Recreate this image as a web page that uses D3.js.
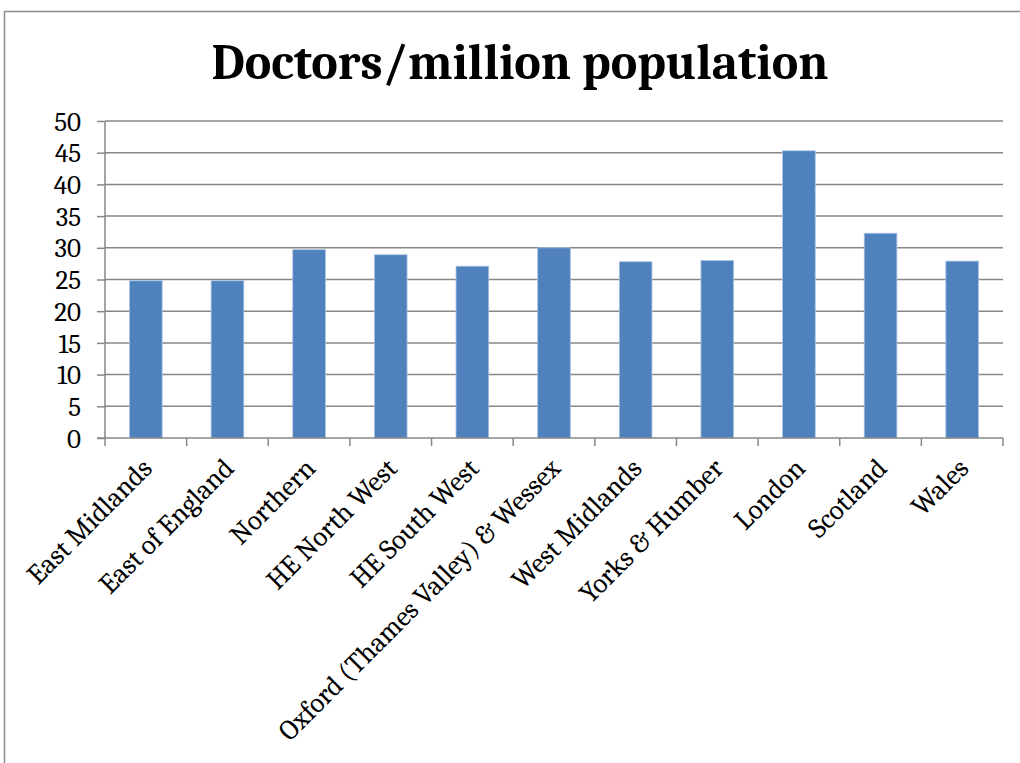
<!DOCTYPE html>
<html>
<head>
<meta charset="utf-8">
<script src="https://cdn.jsdelivr.net/npm/d3@7"></script>
<style>
  html, body { margin: 0; padding: 0; background: #fff; }
  svg { display: block; }
</style>
</head>
<body>
<svg id="chart" width="1020" height="763"></svg>
<script>
// Doctors per million population, by region
const regions = [
  "East Midlands", "East of England", "Northern", "HE North West", "HE South West",
  "Oxford (Thames Valley) & Wessex", "West Midlands", "Yorks & Humber",
  "London", "Scotland", "Wales"
];
const doctorsPerMillion = [24.8, 24.8, 29.7, 28.9, 27.1, 30.0, 27.8, 28.0, 45.3, 32.3, 27.9];
const yTicks = [0, 5, 10, 15, 20, 25, 30, 35, 40, 45, 50];
const chartTitle = "Doctors/million population";

const svg = d3.select("#chart");
const W = 1020, H = 763;
const plot = { left: 105, right: 1003, top: 121, bottom: 438 };
const serif = "Cambria, 'Liberation Serif', 'DejaVu Serif', serif";

// outer frame (runs off the right and bottom edges)
svg.append("path")
  .attr("d", `M4.5,${H} V11.5 H${W}`)
  .attr("fill", "none")
  .attr("stroke", "#8c8c8c")
  .attr("stroke-width", 1.5);

svg.append("text")
  .attr("x", 520).attr("y", 79)
  .attr("text-anchor", "middle")
  .attr("font-family", serif)
  .attr("font-weight", "bold")
  .attr("font-size", 50)
  .attr("fill", "#000")
  .text(chartTitle);

const x = d3.scaleBand().domain(regions).range([plot.left, plot.right]).paddingInner(0.6).paddingOuter(0.3);
const xBand = d3.scaleBand().domain(regions).range([plot.left, plot.right]);
const y = d3.scaleLinear().domain([0, 50]).range([plot.bottom, plot.top]);

// horizontal gridlines
svg.append("g")
  .selectAll("line")
  .data(yTicks.filter(t => t > 0))
  .join("line")
  .attr("x1", plot.left).attr("x2", plot.right)
  .attr("y1", d => y(d)).attr("y2", d => y(d))
  .attr("stroke", "#878787")
  .attr("stroke-width", 1.5);

// bars
svg.append("g")
  .selectAll("rect")
  .data(doctorsPerMillion)
  .join("rect")
  .attr("x", (d, i) => x(regions[i]))
  .attr("width", x.bandwidth())
  .attr("y", d => y(d))
  .attr("height", d => y(0) - y(d))
  .attr("fill", "#4f81bd")
  .attr("stroke", "#a9c2e3")
  .attr("stroke-width", 0.8);

// y axis
const yAxis = d3.axisLeft(y).tickValues(yTicks).tickSize(8).tickPadding(16).tickFormat(d3.format("d"));
const gy = svg.append("g").attr("transform", `translate(${plot.left},0)`).call(yAxis);
gy.select(".domain").attr("stroke", "#878787").attr("stroke-width", 1.5).attr("d", `M0,${plot.top}V${plot.bottom}`);
gy.selectAll(".tick line").attr("stroke", "#878787").attr("stroke-width", 1.5);
gy.selectAll(".tick text")
  .attr("font-family", serif)
  .attr("font-size", 27)
  .attr("dy", "0.34em")
  .attr("fill", "#000");

// x axis: ticks at category boundaries
const gx = svg.append("g").attr("transform", `translate(0,${plot.bottom})`);
gx.append("line")
  .attr("x1", plot.left - 8).attr("x2", plot.right)
  .attr("stroke", "#878787").attr("stroke-width", 1.5);
const boundaries = regions.map(r => xBand(r)).concat([plot.right]);
gx.selectAll(".bt")
  .data(boundaries)
  .join("line")
  .attr("class", "bt")
  .attr("x1", d => d).attr("x2", d => d)
  .attr("y1", 0).attr("y2", 8)
  .attr("stroke", "#878787").attr("stroke-width", 1.5);

gx.selectAll(".lbl")
  .data(regions)
  .join("text")
  .attr("class", "lbl")
  .attr("transform", d => `translate(${xBand(d) + xBand.bandwidth() / 2 + 8},${32}) rotate(-45)`)
  .attr("text-anchor", "end")
  .attr("font-family", serif)
  .attr("font-size", 28)
  .attr("fill", "#000")
  .text(d => d);
</script>
</body>
</html>
